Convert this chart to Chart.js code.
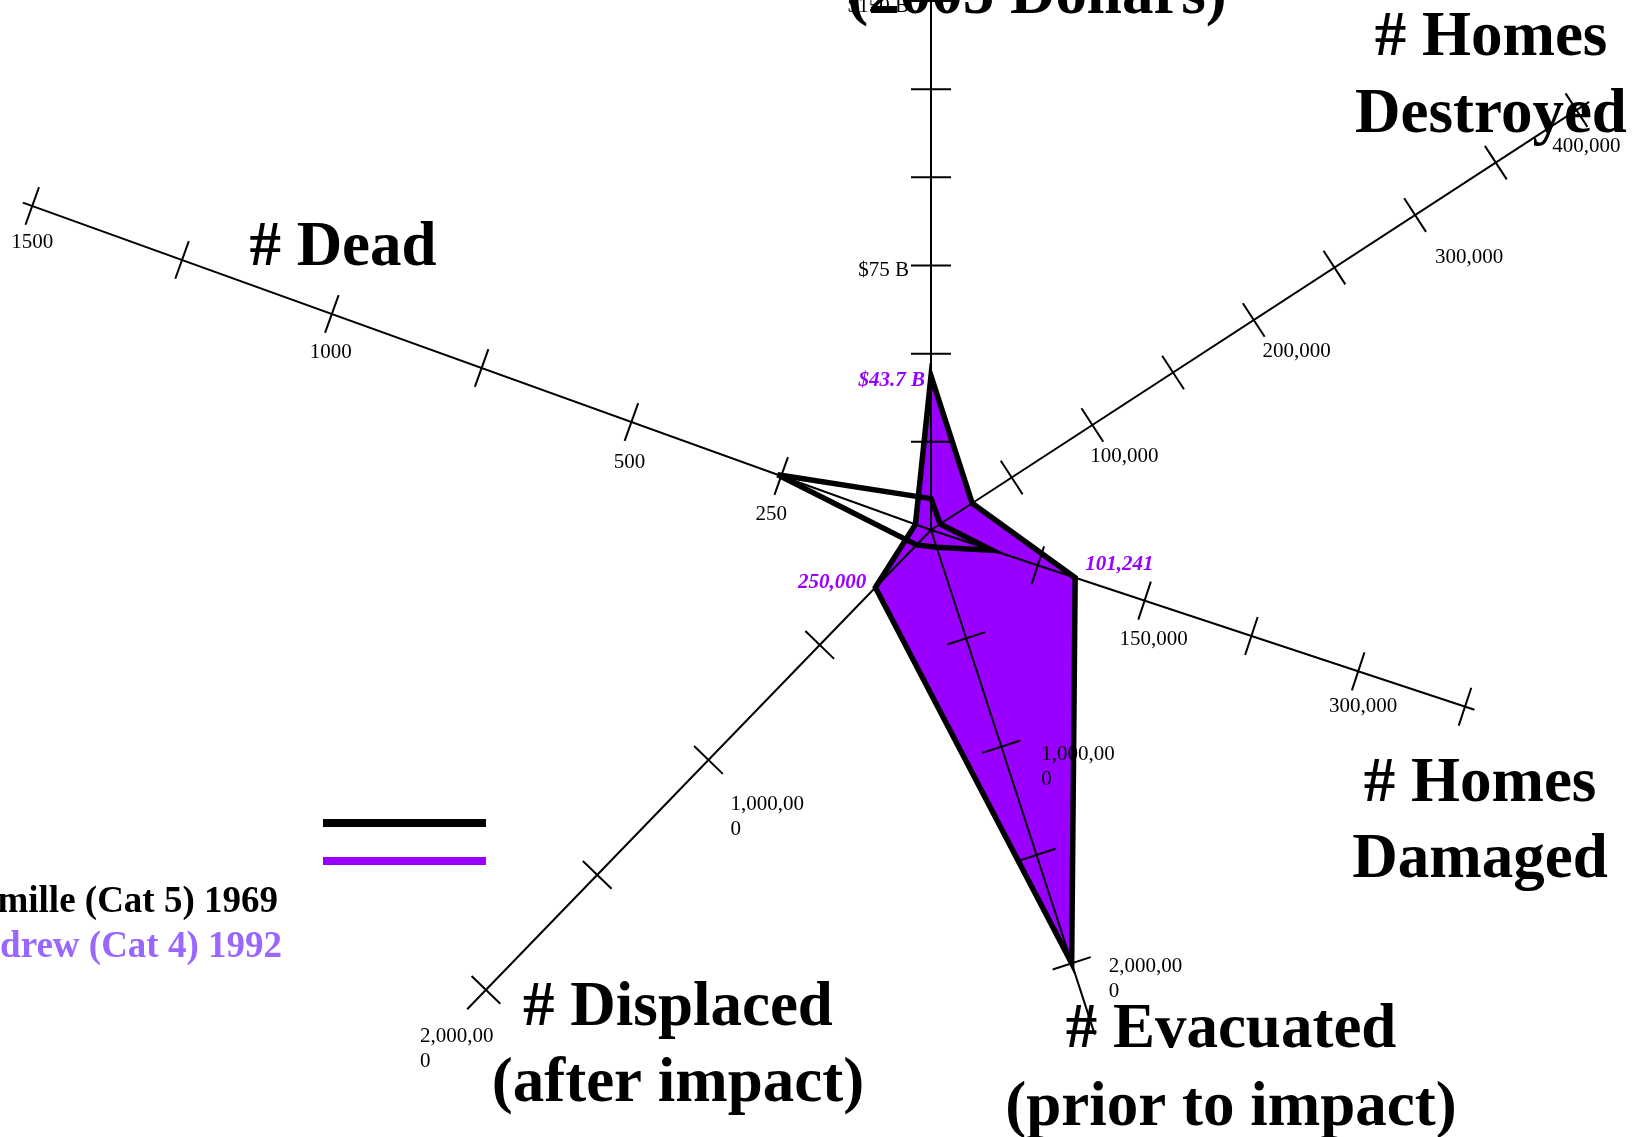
<!DOCTYPE html>
<html lang="en">
<head>
  <meta charset="UTF-8">
  <title>Camille vs Andrew</title>
  <script src="https://cdn.jsdelivr.net/npm/chart.js"></script>
  <style>
    html, body { margin: 0; padding: 0; background: #fff; overflow: hidden; }
    #wrap { width: 1633px; height: 1137px; }
  </style>
</head>
<body>
<div id="wrap"><canvas id="chart" width="1633" height="1137"></canvas></div>
<script>
// axes, clockwise from the top
const axisNames = ['Damages', 'Homes Destroyed', 'Homes Damaged', 'Evacuated', 'Displaced', 'Dead'];
const axisMax = [150, 400000, 375000, 2000000, 2000000, 1500];
const tickStep = [25, 50000, 75000, 500000, 500000, 250];
const tickLabelValues = [
  [75, 150],
  [100000, 200000, 300000, 400000],
  [150000, 300000],
  [1000000, 2000000],
  [1000000, 2000000],
  [250, 500, 1000, 1500]
];
const camille = [8.9, 5700, 43000, 80000, 65000, 256];
const andrew = [43.7, 25524, 101241, 2000000, 250000, 26];
const seriesNames = ['Camille (Cat 5) 1969', 'Andrew (Cat 4) 1992'];
const andrewLabelAxes = [0, 2, 4];
const axisTitles = [
  ['(2005 Dollars)'],
  ['# Homes', 'Destroyed'],
  ['# Homes', 'Damaged'],
  ['# Evacuated', '(prior to impact)'],
  ['# Displaced', '(after impact)'],
  ['# Dead']
];

// layout
const center = { x: 931, y: 530 };
const TICK = 20;
const axisGeom = [
  { dx: 0, dy: -1, len: 529, over: 8 },
  { dx: 0.8383, dy: -0.5453, len: 770, over: 15 },
  { dx: 0.9493, dy: 0.3141, len: 562.5, over: 10 },
  { dx: 0.3088, dy: 0.9511, len: 455.6, over: 75 },
  { dx: -0.6954, dy: 0.7186, len: 640, over: 27 },
  { dx: -0.9408, dy: -0.3392, len: 955.3, over: 10 }
];
const tickLabelPlace = [
  { align: 'right', off: [[-22, 10], [-22, 11]] },
  { align: 'center', off: [[32, 37], [43, 37], [54, 48], [10, 42]] },
  { align: 'center', off: [[9, 44], [5, 41]] },
  { align: 'left', off: [[40, 13], [37, 9]] },
  { align: 'left', off: [[22, 50], [-66, 52]] },
  { align: 'center', off: [[-10, 44], [-2, 46], [-1, 44], [0, 42]] }
];
const andrewLabelPlace = [
  { align: 'right', dx: -6, dy: 10 },
  { align: 'left', dx: 10, dy: -8 },
  { align: 'right', dx: -9, dy: 1 }
];
const titlePlace = [
  { x: 1037, y: [13] },
  { x: 1491, y: [55, 132] },
  { x: 1480, y: [801, 877] },
  { x: 1231, y: [1047, 1125] },
  { x: 678, y: [1025, 1101] },
  { x: 343, y: [265] }
];
const PURPLE = '#9900ff';
const SERIF = '"Liberation Serif", "Times New Roman", serif';

function toPoint(axis, value) {
  const g = axisGeom[axis];
  const d = value / axisMax[axis] * g.len;
  return { x: center.x + g.dx * d, y: center.y + g.dy * d };
}

function tickText(axis, v) {
  if (axis === 0) return ['$' + v + ' B'];
  if (axis === 5) return [String(v)];
  const s = v.toLocaleString('en-US');
  return s.length > 8 ? [s.slice(0, 8), s.slice(8)] : [s];
}

function valueText(axis, v) {
  return axis === 0 ? '$' + v + ' B' : v.toLocaleString('en-US');
}

const axisLineData = [];
const tickData = [];
axisNames.forEach((name, i) => {
  const g = axisGeom[i];
  axisLineData.push({ x: center.x, y: center.y }, toPoint(i, axisMax[i] * (1 + g.over / g.len)), { x: null, y: null });
  for (let v = tickStep[i]; v <= axisMax[i]; v += tickStep[i]) {
    const p = toPoint(i, v);
    tickData.push(
      { x: p.x - g.dy * TICK, y: p.y + g.dx * TICK },
      { x: p.x + g.dy * TICK, y: p.y - g.dx * TICK },
      { x: null, y: null }
    );
  }
});

// closed ring, first two points repeated so the start vertex gets a proper join
function ring(values) {
  const pts = values.map((v, i) => toPoint(i, v));
  pts.push(pts[0], pts[1]);
  return pts;
}

function drawLines(ctx, lines, x, ys, align, font, color) {
  ctx.font = font;
  ctx.fillStyle = color;
  ctx.textAlign = align;
  ctx.textBaseline = 'alphabetic';
  lines.forEach((t, k) => ctx.fillText(t, x, ys[k]));
}

const textPlugin = {
  id: 'hurricaneText',
  beforeDatasetDraw(chart, args) {
    if (args.index !== 3) return;
    const ctx = chart.ctx;
    ctx.save();
    // axis titles
    axisTitles.forEach((lines, i) => {
      drawLines(ctx, lines, titlePlace[i].x, titlePlace[i].y, 'center', 'bold 63px ' + SERIF, '#000');
    });
    // tick labels
    tickLabelValues.forEach((vals, i) => {
      const place = tickLabelPlace[i];
      vals.forEach((v, k) => {
        const p = toPoint(i, v);
        const x = p.x + place.off[k][0];
        const y = p.y + place.off[k][1];
        const lines = tickText(i, v);
        drawLines(ctx, lines, x, lines.map((_, n) => y + n * 25), place.align, '21px ' + SERIF, '#000');
      });
    });
    // Andrew value labels
    andrewLabelAxes.forEach((axis, k) => {
      const p = toPoint(axis, andrew[axis]);
      const place = andrewLabelPlace[k];
      drawLines(ctx, [valueText(axis, andrew[axis])], p.x + place.dx, [p.y + place.dy], place.align, 'italic bold 21px ' + SERIF, PURPLE);
    });
    // legend
    ctx.lineCap = 'butt';
    ctx.lineWidth = 8;
    ctx.strokeStyle = '#000';
    ctx.beginPath(); ctx.moveTo(323, 823); ctx.lineTo(486, 823); ctx.stroke();
    ctx.strokeStyle = PURPLE;
    ctx.beginPath(); ctx.moveTo(323, 861); ctx.lineTo(486, 861); ctx.stroke();
    drawLines(ctx, [seriesNames[0]], 278, [912], 'right', 'bold 37px ' + SERIF, '#000');
    drawLines(ctx, [seriesNames[1]], 282, [957], 'right', 'bold 37px ' + SERIF, '#9966ff');
    ctx.restore();
  }
};

const miterPlugin = {
  id: 'miterLimit',
  beforeDatasetsDraw(chart) { chart.ctx.save(); chart.ctx.miterLimit = 5.5; },
  afterDatasetsDraw(chart) { chart.ctx.restore(); }
};

new Chart(document.getElementById('chart').getContext('2d'), {
  type: 'scatter',
  data: {
    datasets: [
      { label: 'axes', data: axisLineData, showLine: true, borderColor: '#000', borderWidth: 2, pointRadius: 0, spanGaps: false },
      { label: 'ticks', data: tickData, showLine: true, borderColor: '#000', borderWidth: 2, pointRadius: 0, spanGaps: false },
      { label: seriesNames[0], data: ring(camille), showLine: true, borderColor: '#000', borderWidth: 5.5, pointRadius: 0, borderJoinStyle: 'miter', fill: false },
      { label: seriesNames[1], data: ring(andrew), showLine: true, borderColor: '#000', backgroundColor: PURPLE, borderWidth: 5.5, pointRadius: 0, borderJoinStyle: 'miter', fill: 'shape' }
    ]
  },
  options: {
    responsive: false,
    animation: false,
    events: [],
    layout: { padding: 0 },
    scales: {
      x: { type: 'linear', min: 0, max: 1633, display: false },
      y: { type: 'linear', min: 0, max: 1137, reverse: true, display: false }
    },
    plugins: { legend: { display: false }, tooltip: { enabled: false } }
  },
  plugins: [textPlugin, miterPlugin]
});
</script>
</body>
</html>
